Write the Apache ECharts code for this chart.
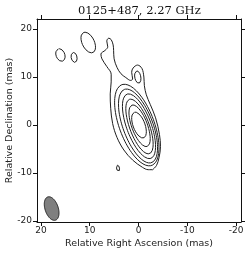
<!DOCTYPE html>
<html>
<head>
<meta charset="utf-8">
<script src="https://cdn.jsdelivr.net/npm/echarts@6/dist/echarts.min.js"></script>
<style>html,body{margin:0;padding:0;background:#fff}#c{width:250px;height:255px}</style>
</head>
<body>
<div id="c"></div>
<script>
// ---- data (mas) ----
const tickValues = [-20, -10, 0, 10, 20];

// nested core contours (outer to inner), fitted as ellipses
const coreRA    = [0.35, 0.1, -0.1, -0.2, -0.22, -0.1];
const coreDec   = [0.0, -0.2, -0.25, -0.3, -0.15, 0.0];
const coreMajor = [8.95, 8.12, 7.12, 6.02, 4.59, 2.84];
const coreMinor = [3.58, 3.07, 2.52, 2.02, 1.61, 1.22];
const corePA    = [20, 20, 20, 20, 20, 20];

// lowest contour (core + jet), vertices
const lowestRA  = [-2.9,-3.7,-4.2,-4.5,-4.3,-3.5,-2.4,-1.6,-1.2,-1.1,-0.7,0.2,1.1,1.4,1.2,1.6,2.6,3.6,4.4,5.0,5.1,5.2,5.6,6.1,6.5,6.3,6.8,7.7,7.5,6.5,5.6,5.6,5.8,5.7,5.3,4.4,3.0,1.2,-0.8,-2.0,-2.9];
const lowestDec = [-9.3,-8.4,-6.8,-4.5,-2.0,1.5,4.3,6.3,8.2,10.0,11.8,12.5,11.9,11.0,9.6,9.3,9.9,10.7,12.0,13.8,15.5,16.7,17.8,18.1,17.5,16.3,15.6,14.8,13.8,12.2,10.6,9.0,6.5,3.5,0.3,-2.6,-5.2,-7.3,-8.8,-9.3,-9.3];

// isolated components
const blobRA    = [0.15, 10.3, 16.0, 13.2, 4.2];
const blobDec   = [10.0, 17.2, 14.6, 14.1, -9.0];
const blobMajor = [1.3, 2.3, 1.35, 1.05, 0.65];
const blobMinor = [0.62, 1.25, 0.9, 0.6, 0.3];
const blobPA    = [10, 25, 20, 10, 10];

// restoring beam
const beamRA = [17.8], beamDec = [-17.4], beamMajor = [2.55], beamMinor = [1.35], beamPA = [18];

function ellipse(cx, cy, a, b, pa) {
  const th = pa * Math.PI / 180, pts = [];
  const ux = Math.sin(th), uy = Math.cos(th), vx = Math.cos(th), vy = -Math.sin(th);
  for (let i = 0; i <= 96; i++) {
    const t = i / 96 * 2 * Math.PI;
    pts.push([cx + a * Math.cos(t) * ux + b * Math.sin(t) * vx,
              cy + a * Math.cos(t) * uy + b * Math.sin(t) * vy]);
  }
  return pts;
}

const lineCol = '#1e1e1e';
const series = [];
function addLine(pts, smooth) {
  series.push({type: 'line', data: pts, showSymbol: false, smooth: smooth || false,
    silent: true, animation: false, xAxisIndex: 0, yAxisIndex: 0,
    lineStyle: {color: lineCol, width: 1}});
}
addLine(lowestRA.map((r, i) => [r, lowestDec[i]]), 0.35);
coreRA.forEach((r, i) => addLine(ellipse(r, coreDec[i], coreMajor[i], coreMinor[i], corePA[i])));
blobRA.forEach((r, i) => addLine(ellipse(r, blobDec[i], blobMajor[i], blobMinor[i], blobPA[i])));

const beamPts = ellipse(beamRA[0], beamDec[0], beamMajor[0], beamMinor[0], beamPA[0]);
series.push({
  type: 'custom', silent: true, animation: false, xAxisIndex: 0, yAxisIndex: 0,
  data: [0],
  renderItem: function (params, api) {
    return {type: 'polygon', shape: {points: beamPts.map(p => api.coord(p))},
      style: {fill: '#7f7f7f', stroke: '#222', lineWidth: 1}};
  }
});

const labelFont = {fontFamily: 'DejaVu Sans', fontSize: 9, color: '#222'};
function axisBase(pos, showLabel) {
  return {
    type: 'value', position: pos,
    axisLine: {show: true, onZero: false, lineStyle: {color: '#111', width: 1}},
    axisTick: {show: true, inside: false, length: 4, customValues: tickValues, lineStyle: {color: '#111'}},
    axisLabel: Object.assign({show: showLabel, customValues: tickValues, margin: 4}, labelFont),
    splitLine: {show: false}
  };
}
const xMin = -21, xMax = 20.8, yMin = -20.2, yMax = 22.1;
const x0 = Object.assign(axisBase('bottom', true), {min: xMin, max: xMax, inverse: true,
  name: 'Relative Right Ascension (mas)', nameLocation: 'middle', nameGap: 17, nameMoveOverlap: false,
  nameTextStyle: {fontFamily: 'DejaVu Sans', fontSize: 9.5, color: '#222'}});
const x1 = Object.assign(axisBase('top', false), {min: xMin, max: xMax, inverse: true});
const y0 = Object.assign(axisBase('left', true), {min: yMin, max: yMax,
  name: 'Relative Declination (mas)', nameLocation: 'middle', nameGap: 22, nameMoveOverlap: false,
  nameTextStyle: {fontFamily: 'DejaVu Sans', fontSize: 9.5, color: '#222'}});
y0.axisLabel.margin = 5;
const y1 = Object.assign(axisBase('right', false), {min: yMin, max: yMax});

const chart = echarts.init(document.getElementById('c'), null, {renderer: 'canvas'});
chart.setOption({
  animation: false,
  backgroundColor: '#fff',
  title: {text: '0125+487, 2.27 GHz', left: 78, top: 5, padding: 0,
    textStyle: {fontFamily: 'DejaVu Serif', fontSize: 11.5, fontWeight: 'normal', color: '#111'}},
  grid: {left: 37, right: 9, top: 19, bottom: 33, containLabel: false, outerBoundsMode: 'none'},
  xAxis: [x0, x1],
  yAxis: [y0, y1],
  series: series
});
</script>
</body>
</html>
